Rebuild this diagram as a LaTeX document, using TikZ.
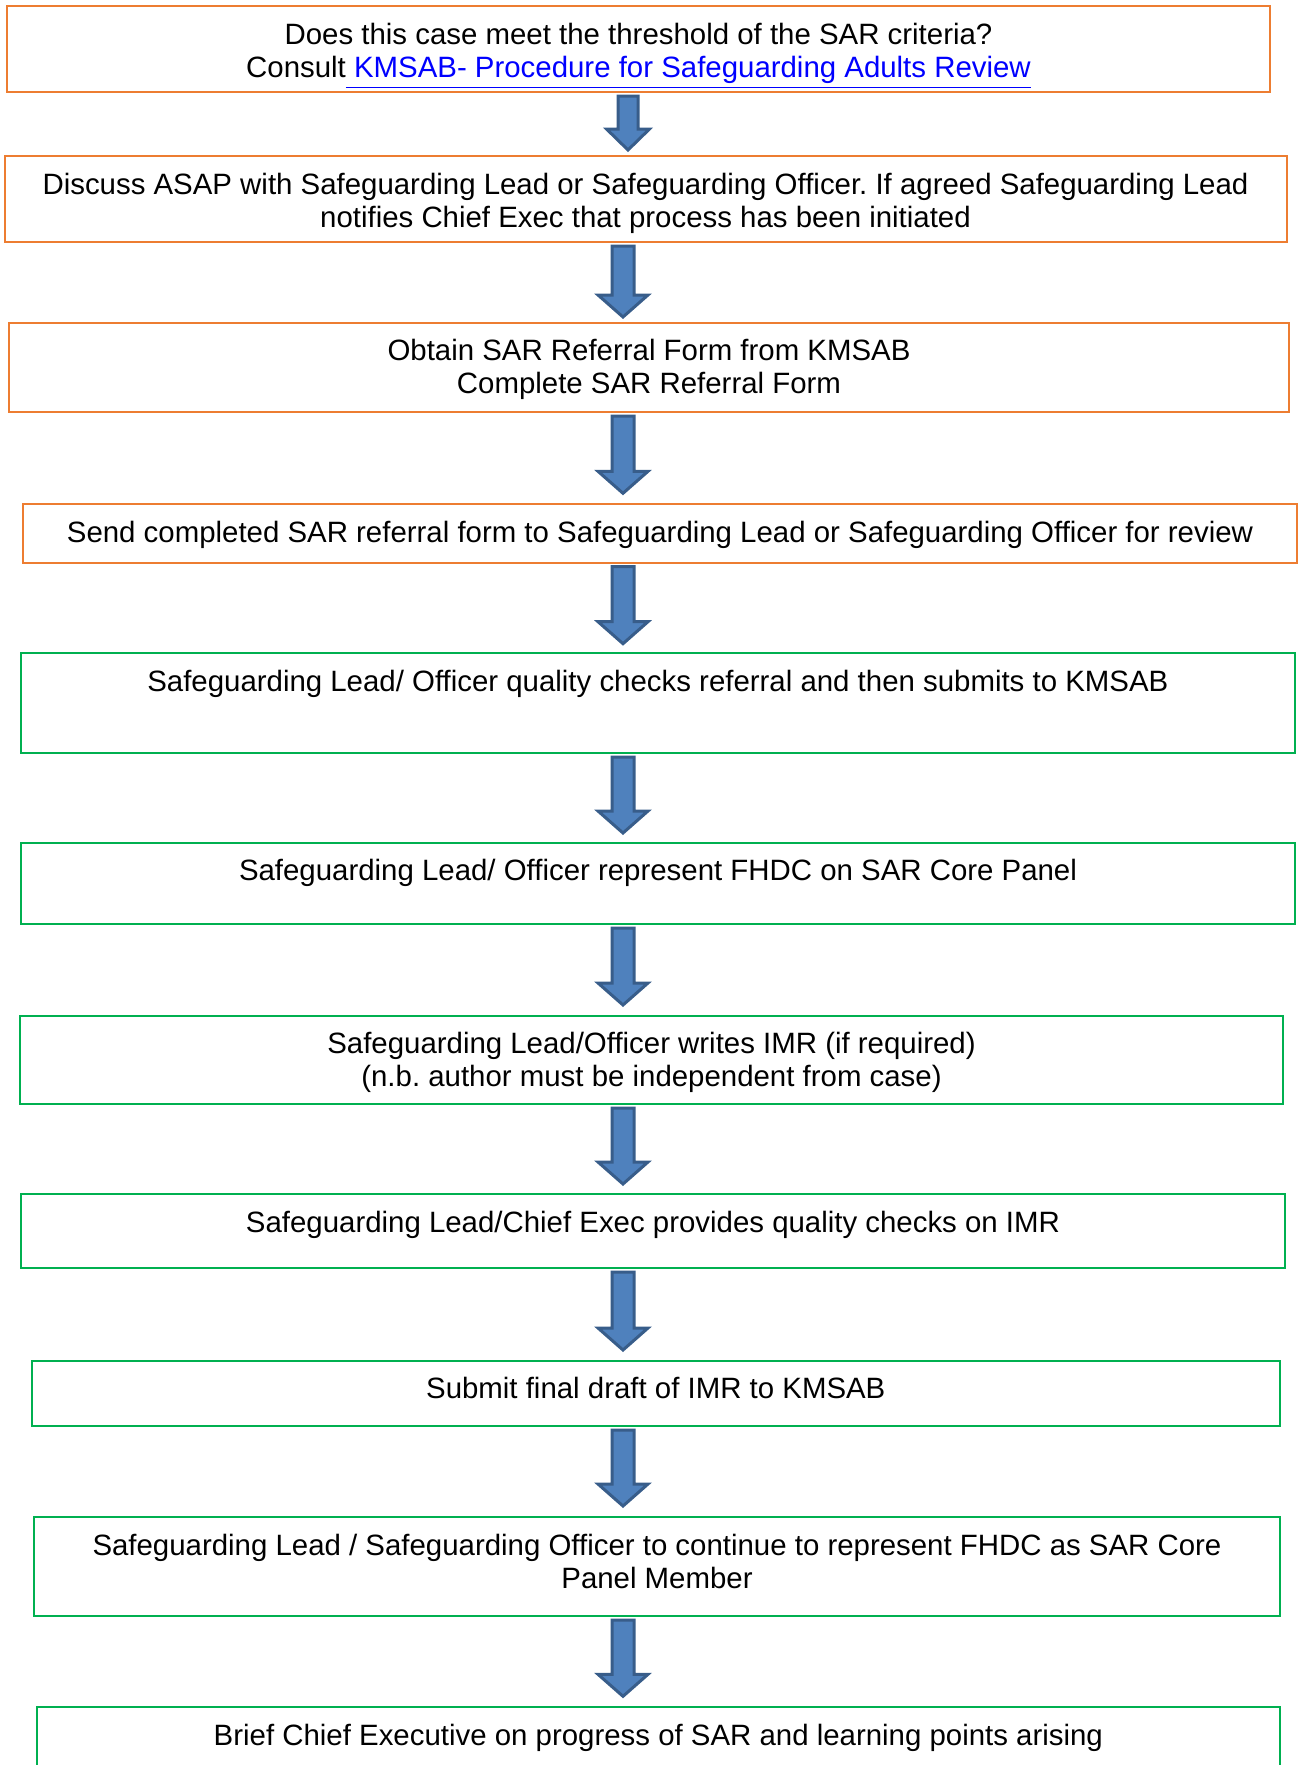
\documentclass[tikz,border=0pt]{standalone}
\usepackage{fontspec}
\setmainfont{Liberation Sans}
\usepackage{tikz}
\usetikzlibrary{calc}
\usepackage{xcolor}

\definecolor{boxorange}{HTML}{ED7D31}
\definecolor{boxgreen}{HTML}{00B050}
\definecolor{arrowfill}{HTML}{4F81BD}
\definecolor{arrowedge}{HTML}{385D8A}
\definecolor{linkblue}{HTML}{0000FF}

\newlength\unitpx
\setlength\unitpx{0.015cm}

\begin{document}
\begin{tikzpicture}[
  x=\unitpx, y=-\unitpx,
  font=\fontsize{12.55}{14.1}\selectfont\frenchspacing,
  box/.style={draw, line width=2\unitpx, align=center, inner sep=0pt},
  orangebox/.style={box, draw=boxorange},
  greenbox/.style={box, draw=boxgreen},
  topline/.style={text height=21\unitpx, text depth=#1\unitpx},
  shaftw/.store in=\shaftw, headw/.store in=\headw,
  headl/.store in=\headl, tipgap/.store in=\tipgap,
  shaftw=11, headw=25, headl=22, tipgap=10,
  blockarrow/.style={draw=arrowedge, fill=arrowfill, line width=3\unitpx,
    to path={($(\tikztostart)+(-\shaftw,3)$)
      -- ($(\tikztotarget)+(-\shaftw,-\tipgap-\headl)$)
      -- ($(\tikztotarget)+(-\headw,-\tipgap-\headl)$)
      -- ($(\tikztotarget)+(0,-\tipgap)$)
      -- ($(\tikztotarget)+(\headw,-\tipgap-\headl)$)
      -- ($(\tikztotarget)+(\shaftw,-\tipgap-\headl)$)
      -- ($(\tikztostart)+(\shaftw,3)$) -- cycle}}
]
\useasboundingbox (0,0) rectangle (1300,1765);

\node[orangebox, minimum width=1263\unitpx, minimum height=86\unitpx] (sar) at (638.5,49)
  {\rule{0pt}{15.5pt}Does this case meet the threshold of the SAR criteria?\\
   Consult\textcolor{linkblue}{\underline{ KMSAB- Procedure for Safeguarding Adults Review}}\rule[-5pt]{0pt}{0pt}};
\node[orangebox, minimum width=1282\unitpx, minimum height=86\unitpx] (discuss) at (645.5,199)
  {\rule{0pt}{12.85pt}Discuss ASAP with Safeguarding Lead or Safeguarding Officer. If agreed Safeguarding Lead\\
   notifies Chief Exec that process has been initiated\rule[-3pt]{0pt}{0pt}};
\node[orangebox, minimum width=1280\unitpx, minimum height=89\unitpx] (obtain) at (649,367.5)
  {\rule{0pt}{11.5pt}Obtain SAR Referral Form from KMSAB\\ Complete SAR Referral Form\rule[-3pt]{0pt}{0pt}};
\node[orangebox, topline=3.8, minimum width=1274.6\unitpx, minimum height=58.4\unitpx] (send) at (660,533.5)
  {Send completed SAR referral form to Safeguarding Lead or Safeguarding Officer for review};

\node[greenbox, topline=44.5, minimum width=1274.3\unitpx, minimum height=100.3\unitpx] (check) at (657.85,702.85)
  {Safeguarding Lead/ Officer quality checks referral and then submits to KMSAB};
\node[greenbox, topline=27.8, minimum width=1274\unitpx, minimum height=81\unitpx] (panel) at (658,883.5)
  {Safeguarding Lead/ Officer represent FHDC on SAR Core Panel};
\node[greenbox, minimum width=1263\unitpx, minimum height=88\unitpx] (imr) at (651.5,1060)
  {\rule{0pt}{11.55pt}Safeguarding Lead/Officer writes IMR (if required)\\
   (n.b. author must be independent from case)\rule[-3pt]{0pt}{0pt}};
\node[greenbox, topline=18.8, minimum width=1264\unitpx, minimum height=74\unitpx] (imrcheck) at (653,1231)
  {Safeguarding Lead/Chief Exec provides quality checks on IMR};
\node[greenbox, topline=11.8, minimum width=1248.5\unitpx, minimum height=65\unitpx] (final) at (655.75,1393.5)
  {Submit final draft of IMR to KMSAB};
\node[greenbox, minimum width=1246\unitpx, minimum height=99\unitpx] (member) at (657,1566.5)
  {\rule{0pt}{11.95pt}Safeguarding Lead / Safeguarding Officer to continue to represent FHDC as SAR Core\\
   Panel Member\rule[-7pt]{0pt}{0pt}};
\node[greenbox, topline=36.8, minimum width=1243.3\unitpx, minimum height=92.7\unitpx] (brief) at (658.35,1753.65)
  {Brief Chief Executive on progress of SAR and learning points arising};

% block arrows down the page
\coordinate (ax1) at (628,0);
\coordinate (ax) at (623,0);

\draw[blockarrow, shaftw=10, headw=21.5, headl=21, tipgap=5] (sar.south -| ax1) to (discuss.north -| ax1);
\draw[blockarrow, tipgap=5] (discuss.south -| ax) to (obtain.north -| ax);
\draw[blockarrow] (obtain.south -| ax) to (send.north -| ax);
\draw[blockarrow, tipgap=8] (send.south -| ax) to (check.north -| ax);
\draw[blockarrow, tipgap=9] (check.south -| ax) to (panel.north -| ax);
\draw[blockarrow] (panel.south -| ax) to (imr.north -| ax);
\draw[blockarrow, tipgap=9] (imr.south -| ax) to (imrcheck.north -| ax);
\draw[blockarrow] (imrcheck.south -| ax) to (final.north -| ax);
\draw[blockarrow] (final.south -| ax) to (member.north -| ax);
\draw[blockarrow] (member.south -| ax) to (brief.north -| ax);

\end{tikzpicture}
\end{document}
